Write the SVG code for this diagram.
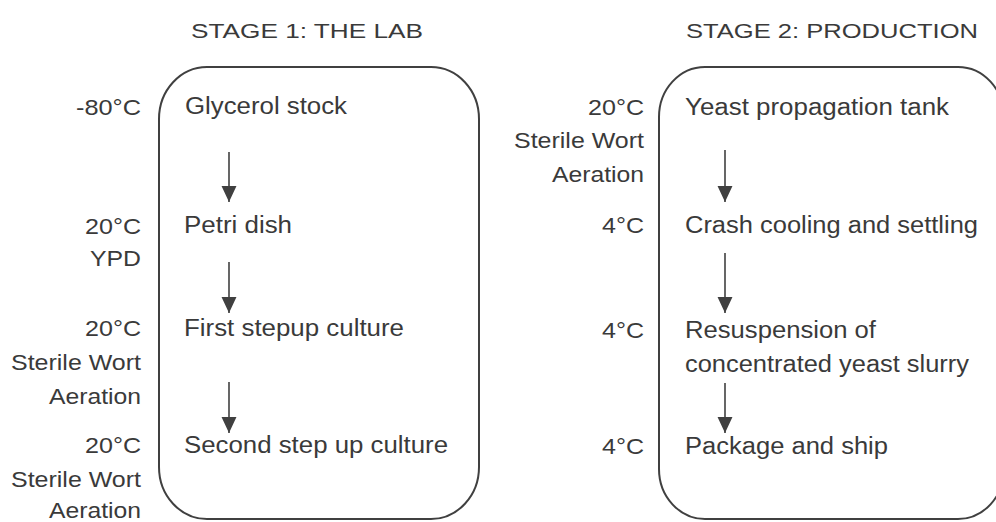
<svg xmlns="http://www.w3.org/2000/svg" width="996" height="522" viewBox="0 0 996 522">
  <style>
    .t { font-family: "Liberation Sans", Arial, sans-serif; font-size: 22px; fill: #3a3a3a; }
    .step { font-size: 23px; }
    .lbl { text-anchor: end; }
    .title { font-size: 21px; }
    .box { fill: none; stroke: #404040; stroke-width: 2; }
    .arr { stroke: #404040; stroke-width: 1.6; fill: none; marker-end: url(#head); }
  </style>
  <defs>
    <marker id="head" markerUnits="userSpaceOnUse" markerWidth="16" markerHeight="16" viewBox="0 0 15 14" refX="15" refY="7" orient="auto">
      <path d="M0,0 L15,7 L0,14 Z" fill="#404040"/>
    </marker>
  </defs>
  <rect width="996" height="522" fill="#ffffff"/>

  <!-- Stage titles -->
  <g id="title-stage1"><text class="t title" x="191" y="38" textLength="232" lengthAdjust="spacingAndGlyphs">STAGE 1: THE LAB</text></g>
  <g id="title-stage2"><text class="t title" x="686" y="38" textLength="292" lengthAdjust="spacingAndGlyphs">STAGE 2: PRODUCTION</text></g>

  <!-- Stage frames -->
  <g id="frame-lab"><rect class="box" x="159" y="67" width="320" height="452" rx="48" ry="52"/></g>
  <g id="frame-production"><rect class="box" x="659" y="67" width="345" height="452" rx="46" ry="50"/></g>

  <!-- Stage 1 steps -->
  <g id="lab-glycerol">
    <text class="t lbl" x="141" y="115" textLength="65" lengthAdjust="spacingAndGlyphs">-80°C</text>
    <text class="t step" x="185" y="114" textLength="162" lengthAdjust="spacingAndGlyphs">Glycerol stock</text>
  </g>
  <g id="lab-petri">
    <text class="t lbl" x="141" y="234" textLength="56" lengthAdjust="spacingAndGlyphs">20°C</text>
    <text class="t lbl" x="141" y="266" textLength="51" lengthAdjust="spacingAndGlyphs">YPD</text>
    <text class="t step" x="184" y="233" textLength="108" lengthAdjust="spacingAndGlyphs">Petri dish</text>
  </g>
  <g id="lab-first-stepup">
    <text class="t lbl" x="141" y="336" textLength="56" lengthAdjust="spacingAndGlyphs">20°C</text>
    <text class="t lbl" x="141" y="370" textLength="130" lengthAdjust="spacingAndGlyphs">Sterile Wort</text>
    <text class="t lbl" x="141" y="404" textLength="92" lengthAdjust="spacingAndGlyphs">Aeration</text>
    <text class="t step" x="184" y="336" textLength="220" lengthAdjust="spacingAndGlyphs">First stepup culture</text>
  </g>
  <g id="lab-second-stepup">
    <text class="t lbl" x="141" y="453" textLength="56" lengthAdjust="spacingAndGlyphs">20°C</text>
    <text class="t lbl" x="141" y="487" textLength="130" lengthAdjust="spacingAndGlyphs">Sterile Wort</text>
    <text class="t lbl" x="141" y="518" textLength="92" lengthAdjust="spacingAndGlyphs">Aeration</text>
    <text class="t step" x="184" y="453" textLength="264" lengthAdjust="spacingAndGlyphs">Second step up culture</text>
  </g>

  <!-- Stage 2 steps -->
  <g id="prod-propagation">
    <text class="t lbl" x="644" y="115" textLength="56" lengthAdjust="spacingAndGlyphs">20°C</text>
    <text class="t lbl" x="644" y="148" textLength="130" lengthAdjust="spacingAndGlyphs">Sterile Wort</text>
    <text class="t lbl" x="644" y="182" textLength="92" lengthAdjust="spacingAndGlyphs">Aeration</text>
    <text class="t step" x="685" y="115" textLength="264" lengthAdjust="spacingAndGlyphs">Yeast propagation tank</text>
  </g>
  <g id="prod-crash-cooling">
    <text class="t lbl" x="644" y="233" textLength="42" lengthAdjust="spacingAndGlyphs">4°C</text>
    <text class="t step" x="685" y="233" textLength="293" lengthAdjust="spacingAndGlyphs">Crash cooling and settling</text>
  </g>
  <g id="prod-resuspension">
    <text class="t lbl" x="644" y="338" textLength="42" lengthAdjust="spacingAndGlyphs">4°C</text>
    <text class="t step" x="685" y="338" textLength="191" lengthAdjust="spacingAndGlyphs">Resuspension of</text>
    <text class="t step" x="685" y="372" textLength="284" lengthAdjust="spacingAndGlyphs">concentrated yeast slurry</text>
  </g>
  <g id="prod-package">
    <text class="t lbl" x="644" y="454" textLength="42" lengthAdjust="spacingAndGlyphs">4°C</text>
    <text class="t step" x="685" y="454" textLength="203" lengthAdjust="spacingAndGlyphs">Package and ship</text>
  </g>

  <!-- Connectors -->
  <g id="connectors">
    <line class="arr" x1="229" y1="152" x2="229" y2="202"/>
    <line class="arr" x1="229" y1="262" x2="229" y2="313"/>
    <line class="arr" x1="229" y1="382" x2="229" y2="433"/>
    <line class="arr" x1="725" y1="150" x2="725" y2="202"/>
    <line class="arr" x1="725" y1="253" x2="725" y2="313"/>
    <line class="arr" x1="725" y1="383" x2="725" y2="433"/>
  </g>
</svg>
